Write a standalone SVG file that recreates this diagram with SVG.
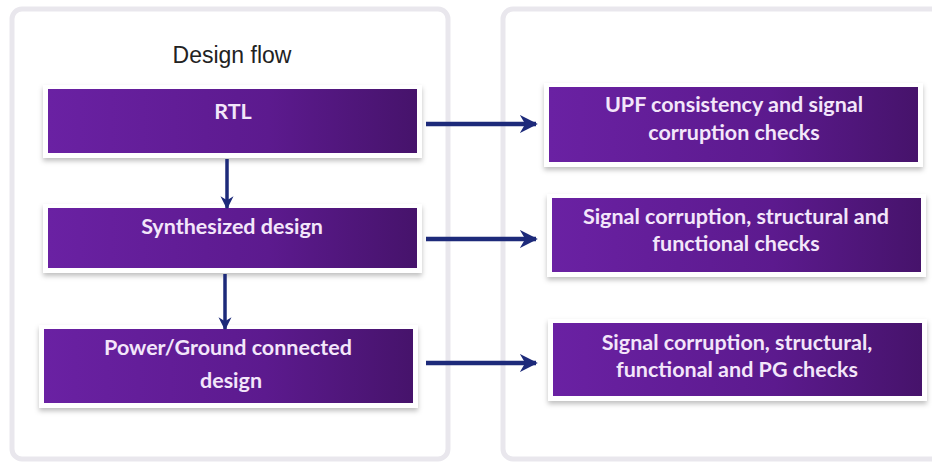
<svg xmlns="http://www.w3.org/2000/svg" width="932" height="463" viewBox="0 0 932 463">
<defs>
<linearGradient id="pg" x1="0" y1="0" x2="1" y2="0">
<stop offset="0" stop-color="#6a21a3"/>
<stop offset="0.6" stop-color="#5c1a8e"/>
<stop offset="1" stop-color="#46136b"/>
</linearGradient>
<filter id="sh" x="-5%" y="-20%" width="110%" height="150%">
<feDropShadow dx="0" dy="3" stdDeviation="2.5" flood-color="#000" flood-opacity="0.25"/>
</filter>
<marker id="ahH" viewBox="0 0 10 10" refX="9" refY="5" markerWidth="18" markerHeight="20" orient="auto" markerUnits="userSpaceOnUse">
<path d="M0,0 L10,5 L0,10 L3,5 Z" fill="#1d2a7a"/>
</marker>
<marker id="ahV" viewBox="0 0 10 10" refX="9" refY="5" markerWidth="13" markerHeight="14" orient="auto" markerUnits="userSpaceOnUse">
<path d="M0,0 L10,5 L0,10 L3,5 Z" fill="#1d2a7a"/>
</marker>
<style>
.panel{fill:#fff;stroke:#e9e7ed;stroke-width:5}
.frame{fill:#fff;filter:url(#sh)}
.box{fill:url(#pg)}
.t{font-family:Lato,"Open Sans",sans-serif;font-weight:bold;font-size:21.5px;fill:#f3e6fa;text-anchor:middle}
.title{font-family:"Liberation Sans",Arial,sans-serif;font-size:23px;fill:#222;text-anchor:middle}
.ch{stroke:#1d2a7a;stroke-width:4.5;fill:none;marker-end:url(#ahH)}
.cv{stroke:#1d2a7a;stroke-width:3.5;fill:none;marker-end:url(#ahV)}
</style>
</defs>
<rect width="932" height="463" fill="#fff"/>
<rect class="panel" x="12" y="9" width="436" height="450" rx="10"/>
<rect class="panel" x="503" y="9" width="440" height="450" rx="10"/>
<text class="title" x="232" y="63">Design flow</text>

<g id="rtl">
<rect class="frame" x="43" y="85" width="379" height="73"/>
<rect class="box" x="48" y="89" width="369" height="64"/>
<text class="t" x="233" y="119">RTL</text>
</g>
<g id="synth">
<rect class="frame" x="43" y="204" width="379" height="69"/>
<rect class="box" x="48" y="208" width="369" height="60"/>
<text class="t" x="232" y="234">Synthesized design</text>
</g>
<g id="pgd">
<rect class="frame" x="39" y="325" width="379" height="83"/>
<rect class="box" x="44" y="329" width="369" height="74"/>
<text class="t" x="228" y="355">Power/Ground connected</text>
<text class="t" x="231" y="388">design</text>
</g>
<g id="upf">
<rect class="frame" x="544" y="83" width="379" height="84"/>
<rect class="box" x="549" y="87" width="369" height="75"/>
<text class="t" x="734" y="112">UPF consistency and signal</text>
<text class="t" x="734" y="140">corruption checks</text>
</g>
<g id="sig1">
<rect class="frame" x="547" y="194" width="379" height="83"/>
<rect class="box" x="552" y="198" width="369" height="74"/>
<text class="t" x="736" y="224">Signal corruption, structural and</text>
<text class="t" x="736" y="251">functional checks</text>
</g>
<g id="sig2">
<rect class="frame" x="548" y="319" width="379" height="82"/>
<rect class="box" x="553" y="323" width="369" height="73"/>
<text class="t" x="737" y="350">Signal corruption, structural,</text>
<text class="t" x="737" y="377">functional and PG checks</text>
</g>

<g id="connectors">
<line class="cv" x1="227" y1="159" x2="227" y2="208"/>
<line class="cv" x1="225" y1="274" x2="225" y2="329"/>
<line class="ch" x1="426" y1="124" x2="536" y2="124"/>
<line class="ch" x1="426" y1="239" x2="536" y2="239"/>
<line class="ch" x1="426" y1="363" x2="536" y2="363"/>
</g>
</svg>
